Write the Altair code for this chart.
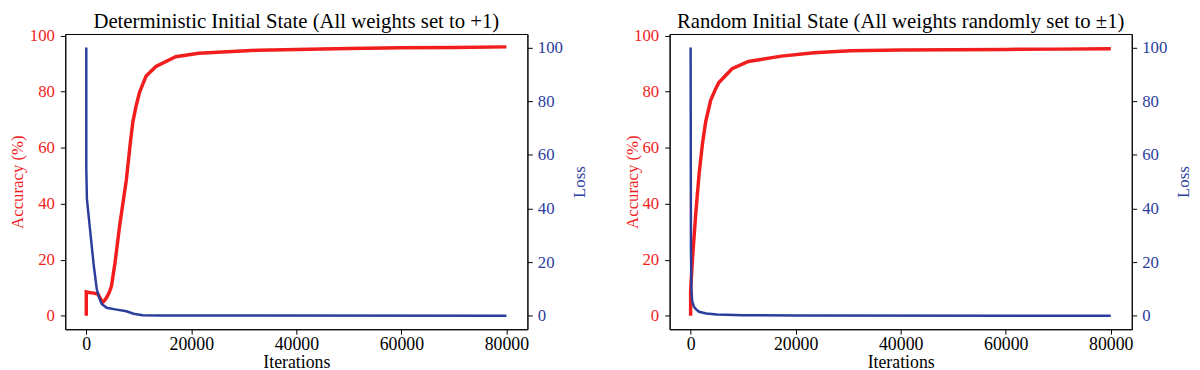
import altair as alt
import pandas as pd

# ---- Deterministic initial state ----
det_acc_iter = [0, 0, 500, 1400, 2200, 2600, 3100, 3500, 3900, 4400, 4800, 5450, 6380, 7640,
                8400, 8890, 9500, 10140, 11390, 13270, 17030, 21400, 32700, 40000, 50000,
                60000, 70000, 80000]
det_acc = [0, 8.5, 8.3, 8.1, 7.8, 6.5, 4.8, 5.5, 6.6, 8.5, 10.6, 18.7, 32.5, 48.7,
           62, 69.4, 75, 79.8, 85.6, 89, 92.5, 93.7, 94.8, 95.1, 95.4, 95.7, 95.8, 96.0]
det_loss_iter = [0, 0, 120, 750, 1380, 2000, 2500, 2940, 3880, 5500, 7640, 9000, 10760,
                 14000, 80000]
det_loss = [100, 55, 43.6, 31.5, 19.5, 9.9, 6.5, 4.4, 3.0, 2.4, 1.7, 0.8, 0.25, 0.1, 0.05]

# ---- Random initial state ----
rnd_acc_iter = [0, 0, 150, 375, 1000, 1630, 2250, 2880, 3820, 4750, 5380, 7890, 11000,
                17300, 23500, 30420, 40000, 50000, 60000, 70000, 80000]
rnd_acc = [0, 9, 14, 21, 37, 51, 61.4, 69.4, 76.9, 81, 83.3, 88.2, 90.8,
           92.7, 93.9, 94.6, 94.9, 95.0, 95.1, 95.2, 95.3]
rnd_loss_iter = [0, 60, 150, 300, 600, 1000, 1600, 3000, 5000, 10000, 20000, 80000]
rnd_loss = [100, 25, 10, 5.5, 3.5, 2.5, 1.5, 0.9, 0.5, 0.25, 0.12, 0.05]

titles = ["Deterministic Initial State (All weights set to +1)",
          "Random Initial State (All weights randomly set to \u00b11)"]
x_ticks = [0, 20000, 40000, 60000, 80000]
y_ticks = [0, 20, 40, 60, 80, 100]

RED = "#f21d1d"
BLUE = "#2c3e9c"
FONT = "Liberation Serif"
W, H = 468, 299


def panel(title, acc_it, acc, loss_it, loss, acc_title_x=None):
    dfa = pd.DataFrame({"it": acc_it, "v": acc, "i": list(range(len(acc)))})
    dfl = pd.DataFrame({"it": loss_it, "v": loss, "i": list(range(len(loss)))})
    x = alt.X("it:Q",
              scale=alt.Scale(domain=[-4000, 84000], nice=False, zero=False),
              axis=alt.Axis(values=x_ticks, format="d", title="Iterations", grid=False,
                            tickSize=5, labelPadding=2, titlePadding=0,
                            labelFontSize=18, titleFontSize=18, labelFont=FONT,
                            titleFont=FONT, labelColor="black", titleColor="black",
                            titleFontWeight="normal", domainColor="black",
                            tickColor="black", labelFlush=False))
    acc_axis_kw = dict(orient="left", values=y_ticks, title="Accuracy (%)", grid=False,
                       tickSize=5, labelPadding=6, titlePadding=3,
                       labelFontSize=17, titleFontSize=17, labelFont=FONT,
                       titleFont=FONT, labelColor=RED, titleColor=RED,
                       titleFontWeight="normal", domainColor="black", tickColor="black")
    if acc_title_x is not None:
        acc_axis_kw["titleX"] = acc_title_x
        acc_axis_kw["titleY"] = H / 2
    red = alt.Chart(dfa).mark_line(color=RED, strokeWidth=3.5, clip=True).encode(
        x=x,
        y=alt.Y("v:Q", scale=alt.Scale(domain=[-4.8, 100.6], nice=False, zero=False),
                axis=alt.Axis(**acc_axis_kw)),
        order="i:Q")
    blue = alt.Chart(dfl).mark_line(color=BLUE, strokeWidth=2.5, clip=True).encode(
        x=x,
        y=alt.Y("v:Q", scale=alt.Scale(domain=[-5, 105], nice=False, zero=False),
                axis=alt.Axis(orient="right", values=y_ticks, title="Loss", grid=False,
                              tickSize=5, labelPadding=5, titlePadding=9,
                              labelFontSize=17, titleFontSize=17, labelFont=FONT,
                              titleFont=FONT, labelColor=BLUE, titleColor=BLUE,
                              titleFontWeight="normal", titleAngle=270,
                              titleBaseline="top",
                              domainColor="black", tickColor="black")),
        order="i:Q")
    return alt.layer(red, blue).resolve_scale(y="independent").properties(
        width=W, height=H,
        title=alt.Title(title, font=FONT, fontSize=21, fontWeight="normal",
                        color="black", offset=-5))


p1 = panel(titles[0], det_acc_iter, det_acc, det_loss_iter, det_loss)
p2 = panel(titles[1], rnd_acc_iter, rnd_acc, rnd_loss_iter, rnd_loss, acc_title_x=-29)

chart = alt.hconcat(p1, p2, spacing=144, bounds="flush").properties(
    padding={"top": 0, "left": 0, "right": 0, "bottom": 0}
).configure_view(stroke="black", strokeWidth=1)

chart.save("out.html", embed_options={"renderer": "svg", "actions": False})
